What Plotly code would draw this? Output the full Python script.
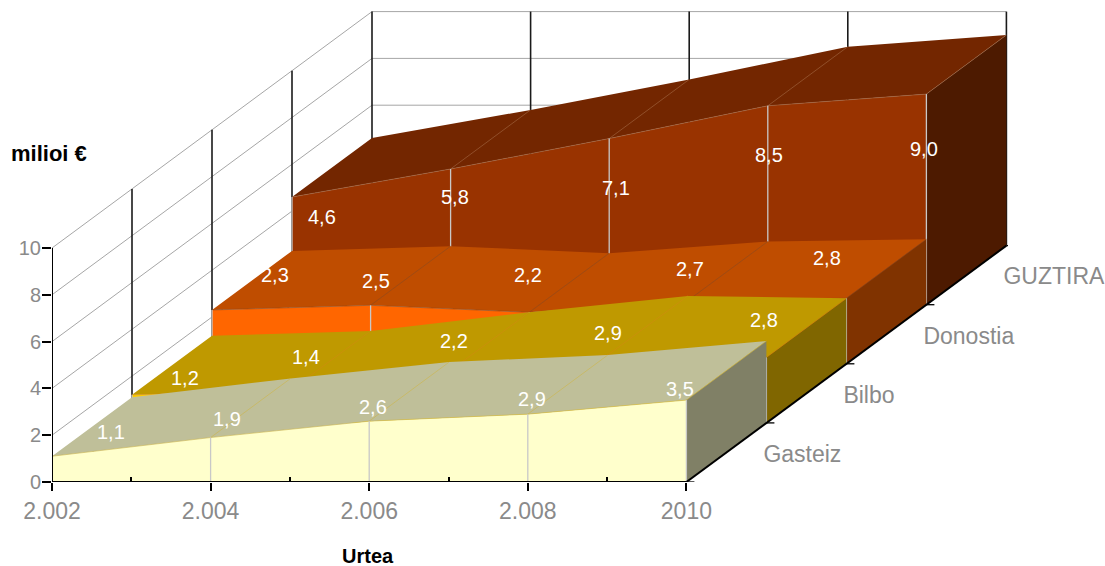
import plotly.graph_objects as go

years = [2002, 2004, 2006, 2008, 2010]
year_labels = ["2.002", "2.004", "2.006", "2.008", "2010"]
minor_years = [2003, 2005, 2007, 2009]
value_ticks = [0, 2, 4, 6, 8, 10]
series_names = ["Gasteiz", "Bilbo", "Donostia", "GUZTIRA"]
gasteiz = [1.1, 1.9, 2.6, 2.9, 3.5]
bilbo = [1.2, 1.4, 2.2, 2.9, 2.8]
donostia = [2.3, 2.5, 2.2, 2.7, 2.8]
guztira = [4.6, 5.8, 7.1, 8.5, 9.0]
series_values = [gasteiz, bilbo, donostia, guztira]

front_colors = ["#FFFFCC", "#FFCC00", "#FF6600", "#993300"]
top_colors = ["#BFBF99", "#BF9900", "#BF4D00", "#732600"]
side_colors = ["#808066", "#806600", "#803300", "#4D1A00"]
seam_colors = ["#CDB64A", "#D08A10", "#8A4A20", "#A56A45"]

# per-label pixel nudges from the value's anchor (dx right, dy up)
label_dx = [[59, 16, 4, 4, -6], [53, 15, 5, 0, -2], [63, 5, -1, 2, -19], [30, 4, 7, 1, -2]]
label_dy = [[24, 19, 14, 15, 11], [17, 33, 30, 22, 37], [35, 24, 37, 32, 40], [-20, -28, -49, -49, -55]]

W, H = 1105, 566
L, R, T, B = 52, 97, 11, 84
PX_YEAR = 79.3
PX_VAL = 23.4
DEPTH_X = 80 / PX_YEAR      # years per depth step (oblique projection)
DEPTH_Y = 59.1 / PX_VAL     # value units per depth step
XR = [2002, 2002 + (W - L - R) / PX_YEAR]
YR = [0, (H - T - B) / PX_VAL]
N = len(series_names)


def px(year, depth):
    return year + depth * DEPTH_X


def py(val, depth):
    return val + depth * DEPTH_Y


def paper_x(p):
    return (p - L) / (W - L - R)


def paper_y(p):
    return 1 - (p - T) / (H - T - B)


fig = go.Figure()


def poly(xs, ys, color):
    fig.add_trace(go.Scatter(x=xs, y=ys, mode="lines", fill="toself", fillcolor=color,
                             line=dict(width=0, color=color), hoverinfo="skip",
                             showlegend=False, cliponaxis=False))


def line(xs, ys, color, width):
    fig.add_trace(go.Scatter(x=xs, y=ys, mode="lines", line=dict(width=width, color=color),
                             hoverinfo="skip", showlegend=False, cliponaxis=False))


GRID = "#A6A6A6"
# walls
for v in value_ticks:
    line([px(years[0], 0), px(years[0], N), px(years[-1], N)],
         [py(v, 0), py(v, N), py(v, N)], GRID, 1)
for k in range(1, N + 1):
    line([px(years[0], k)] * 2, [py(0, k), py(value_ticks[-1], k)], "#1A1A1A", 1.6)
for yr in years[1:]:
    line([px(yr, N)] * 2, [py(0, N), py(value_ticks[-1], N)], "#1A1A1A", 1.6)

# series, back to front
for k in range(N - 1, -1, -1):
    vals = series_values[k]
    # front face
    poly([px(y, k) for y in years] + [px(years[-1], k), px(years[0], k)],
         [py(v, k) for v in vals] + [py(0, k), py(0, k)], front_colors[k])
    # top surface
    poly([px(y, k) for y in years] + [px(y, k + 1) for y in reversed(years)],
         [py(v, k) for v in vals] + [py(v, k + 1) for v in reversed(vals)], top_colors[k])
    # side at the last year
    poly([px(years[-1], k), px(years[-1], k + 1), px(years[-1], k + 1), px(years[-1], k)],
         [py(vals[-1], k), py(vals[-1], k + 1), py(0, k + 1), py(0, k)], side_colors[k])
    # seams across the top
    for y, v in zip(years[1:], vals[1:]):
        line([px(y, k), px(y, k + 1)], [py(v, k), py(v, k + 1)], seam_colors[k], 0.6)
    line([px(y, k) for y in years], [py(v, k) for v in vals], seam_colors[k], 0.6)
    # vertical drop lines on the front face
    for y, v in zip(years, vals):
        line([px(y, k)] * 2, [py(0, k), py(v, k)], "#C8C8C8", 1.3)

# axes
line([years[0], years[-1]], [0, 0], "#000000", 2)
line([years[0], years[0]], [0, value_ticks[-1]], "#000000", 2)
line([px(years[-1], 0), px(years[-1], N)], [py(0, 0), py(0, N)], "#000000", 2)
for k in range(N + 1):
    line([px(years[-1], k), px(years[-1], k) + 8 / PX_YEAR], [py(0, k)] * 2, "#000000", 1.3)

# depth labels
for k, name in enumerate(series_names):
    fig.add_trace(go.Scatter(x=[px(years[-1], k + 0.5) + 37 / PX_YEAR], y=[py(0, k + 0.5) - 3.5 / PX_VAL],
                             mode="text", text=[name], textposition="middle right",
                             textfont=dict(family="Liberation Sans", size=23, color="#8A8A8A"),
                             hoverinfo="skip", showlegend=False, cliponaxis=False))

annotations = []
for k in range(N):
    for i, (y, v) in enumerate(zip(years, series_values[k])):
        annotations.append(dict(x=px(y, k), y=py(v, k), xref="x", yref="y",
                                text=f"{v:.1f}".replace(".", ","), showarrow=False,
                                xshift=label_dx[k][i], yshift=label_dy[k][i],
                                font=dict(family="Liberation Sans", size=20, color="#FFFFFF")))
annotations.append(dict(x=paper_x(48.5), y=paper_y(154), xref="paper", yref="paper", text="<b>milioi €</b>",
                        xanchor="center", yanchor="middle", showarrow=False,
                        font=dict(family="Liberation Sans", size=22, color="#000000")))
annotations.append(dict(x=paper_x(368), y=paper_y(556), xref="paper", yref="paper", text="<b>Urtea</b>",
                        xanchor="center", yanchor="middle", showarrow=False,
                        font=dict(family="Liberation Sans", size=20, color="#000000")))

fig.update_layout(
    width=W, height=H, autosize=False,
    margin=dict(l=L, r=R, t=T, b=B, pad=0),
    paper_bgcolor="#FFFFFF", plot_bgcolor="rgba(0,0,0,0)", showlegend=False,
    annotations=annotations,
    xaxis=dict(range=XR, tickvals=years, ticktext=year_labels, ticks="outside", ticklen=8, tickwidth=2,
               tickcolor="#000000", showgrid=False, zeroline=False, showline=False,
               tickfont=dict(family="Liberation Sans", size=23, color="#8A8A8A"),
               minor=dict(tickvals=minor_years, ticks="inside", ticklen=5, tickwidth=2, tickcolor="#000000",
                          showgrid=False)),
    yaxis=dict(range=YR, tickvals=value_ticks, ticks="outside", ticklen=9, tickwidth=2,
               tickcolor="#000000", showgrid=False, zeroline=False, showline=False,
               ticklabelstandoff=-3,
               tickfont=dict(family="Liberation Sans", size=20, color="#8A8A8A")),
)
fig.write_html("out.html", config={"displayModeBar": False},
               post_script="document.body.style.margin='0';")
